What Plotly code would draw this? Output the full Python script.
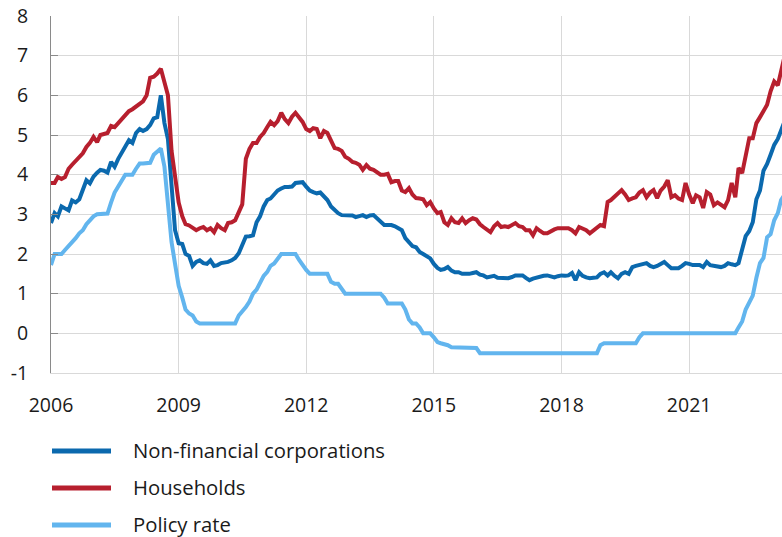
import pandas as pd
import plotly.graph_objects as go

# Monthly observations starting January 2006
start_month = "2006-01-01"

nfc = [
    2.78, 3.03, 2.95, 3.2, 3.15, 3.1, 3.35, 3.3, 3.38, 3.6, 3.86, 3.78,
    3.95, 4.05, 4.12, 4.1, 4.05, 4.32, 4.2, 4.4, 4.55, 4.7, 4.87, 4.8,
    5.05, 5.15, 5.1, 5.15, 5.25, 5.42, 5.45, 6.0, 5.3, 4.9, 3.7, 2.6,
    2.27, 2.25, 2.0, 1.95, 1.7, 1.8, 1.84, 1.77, 1.75, 1.84, 1.7, 1.72,
    1.77, 1.78, 1.8, 1.84, 1.9, 2.02, 2.2, 2.44, 2.45, 2.47, 2.8, 2.95,
    3.2, 3.36, 3.4, 3.5, 3.6, 3.65, 3.69, 3.69, 3.7, 3.79, 3.8, 3.81,
    3.7, 3.6, 3.56, 3.53, 3.55, 3.45, 3.36, 3.2, 3.1, 3.03, 2.98, 2.98,
    2.98, 2.97, 2.93, 2.95, 2.98, 2.93, 2.97, 2.98, 2.9, 2.82, 2.73, 2.73,
    2.73, 2.7, 2.65, 2.6, 2.4, 2.3, 2.2, 2.17, 2.05, 2.0, 1.95, 1.89,
    1.75, 1.65, 1.6, 1.62, 1.67, 1.58, 1.54, 1.54, 1.5, 1.49, 1.5, 1.52,
    1.54, 1.48, 1.46, 1.41, 1.43, 1.45, 1.4, 1.39, 1.39, 1.39, 1.42, 1.46,
    1.46, 1.46, 1.4, 1.34, 1.38, 1.41, 1.43, 1.45, 1.46, 1.43, 1.41, 1.44,
    1.46, 1.45, 1.46, 1.52, 1.34, 1.54, 1.45, 1.41, 1.39, 1.4, 1.41, 1.5,
    1.54, 1.46, 1.54, 1.45, 1.39, 1.5, 1.54, 1.5, 1.67, 1.7, 1.72, 1.75,
    1.77, 1.7, 1.67, 1.7, 1.75, 1.8, 1.72, 1.64, 1.64, 1.64, 1.7, 1.77,
    1.75, 1.72, 1.72, 1.72, 1.67, 1.8, 1.72, 1.7, 1.67, 1.67, 1.7, 1.77,
    1.74, 1.72, 1.77, 2.17, 2.45, 2.58, 2.8, 3.38, 3.6, 4.1, 4.27, 4.5,
    4.75, 4.9, 5.15, 5.35,
]

households = [
    3.79, 3.79, 3.94, 3.89, 3.94, 4.15, 4.25, 4.35, 4.45, 4.54, 4.7, 4.8,
    4.95, 4.82, 5.0, 5.02, 5.05, 5.23, 5.2, 5.3, 5.4, 5.53, 5.6, 5.65,
    5.72, 5.78, 5.85, 6.0, 6.44, 6.47, 6.55, 6.67, 6.3, 6.0, 4.6, 4.0,
    3.3, 2.95, 2.75, 2.72, 2.65, 2.6, 2.65, 2.68, 2.6, 2.65, 2.55, 2.73,
    2.65, 2.6, 2.78, 2.8, 2.85, 3.05, 3.25, 4.4, 4.65, 4.8, 4.8, 4.95,
    5.05, 5.2, 5.33, 5.25, 5.35, 5.56, 5.4, 5.3, 5.46, 5.56, 5.45, 5.33,
    5.15, 5.1, 5.17, 5.15, 4.92, 5.1, 5.05, 4.85, 4.67, 4.65, 4.6, 4.45,
    4.4, 4.32, 4.3, 4.25, 4.12, 4.24, 4.15, 4.12, 4.07, 4.0, 4.0, 4.02,
    3.81, 3.84, 3.84, 3.6, 3.56, 3.66, 3.5, 3.41, 3.4, 3.38, 3.23, 3.31,
    3.15, 3.03, 3.06, 2.8, 2.73, 2.9, 2.8, 2.78, 2.9, 2.78, 2.85, 2.9,
    2.87, 2.75, 2.68, 2.6, 2.55, 2.7, 2.78, 2.68, 2.7, 2.68, 2.73, 2.78,
    2.7, 2.68, 2.6, 2.6, 2.47, 2.65, 2.58, 2.52, 2.52, 2.58, 2.62, 2.65,
    2.65, 2.65, 2.65, 2.6, 2.52, 2.68, 2.65, 2.6, 2.52, 2.6, 2.68, 2.73,
    2.7, 3.31, 3.36, 3.45, 3.53, 3.61, 3.5, 3.36, 3.4, 3.43, 3.55, 3.61,
    3.43, 3.55, 3.61, 3.41, 3.6, 3.7, 3.86, 3.43, 3.48, 3.4, 3.36, 3.79,
    3.5, 3.28, 3.48, 3.43, 3.16, 3.56, 3.5, 3.23, 3.3, 3.25, 3.18, 3.36,
    3.79, 3.43, 4.17, 4.04, 4.54, 4.92, 4.92, 5.3, 5.45, 5.6, 5.76, 6.1,
    6.35, 6.25, 6.65, 7.0,
]

policy_rate = [
    1.72, 2.0, 2.0, 2.0, 2.1, 2.2, 2.27, 2.4, 2.52, 2.6, 2.75, 2.85,
    2.95, 3.0, 3.0, 3.0, 3.02, 3.3, 3.55, 3.7, 3.85, 4.0, 4.0, 4.0,
    4.15, 4.28, 4.28, 4.28, 4.3, 4.5, 4.58, 4.66, 4.2, 3.2, 2.3, 1.75,
    1.2, 0.9, 0.6, 0.5, 0.45, 0.3, 0.25, 0.25, 0.25, 0.25, 0.25, 0.25,
    0.25, 0.25, 0.25, 0.25, 0.25, 0.45, 0.55, 0.66, 0.8, 1.0, 1.1, 1.25,
    1.45, 1.55, 1.7, 1.76, 1.9, 2.0, 2.0, 2.0, 2.0, 2.0, 1.85, 1.72,
    1.6, 1.5, 1.5, 1.5, 1.5, 1.5, 1.5, 1.3, 1.25, 1.25, 1.1, 1.0,
    1.0, 1.0, 1.0, 1.0, 1.0, 1.0, 1.0, 1.0, 1.0, 1.0, 0.9, 0.75,
    0.75, 0.75, 0.75, 0.75, 0.6, 0.35, 0.25, 0.25, 0.15, 0.0, 0.0, 0.0,
    -0.1, -0.22, -0.25, -0.27, -0.3, -0.35, -0.35, -0.35, -0.35, -0.35, -0.35, -0.35,
    -0.37, -0.5, -0.5, -0.5, -0.5, -0.5, -0.5, -0.5, -0.5, -0.5, -0.5, -0.5,
    -0.5, -0.5, -0.5, -0.5, -0.5, -0.5, -0.5, -0.5, -0.5, -0.5, -0.5, -0.5,
    -0.5, -0.5, -0.5, -0.5, -0.5, -0.5, -0.5, -0.5, -0.5, -0.5, -0.5, -0.3,
    -0.25, -0.25, -0.25, -0.25, -0.25, -0.25, -0.25, -0.25, -0.25, -0.25, -0.1, 0.0,
    0.0, 0.0, 0.0, 0.0, 0.0, 0.0, 0.0, 0.0, 0.0, 0.0, 0.0, 0.0,
    0.0, 0.0, 0.0, 0.0, 0.0, 0.0, 0.0, 0.0, 0.0, 0.0, 0.0, 0.0,
    0.0, 0.0, 0.15, 0.3, 0.6, 0.8, 0.95, 1.4, 1.77, 1.9, 2.42, 2.5,
    2.85, 3.03, 3.36, 3.5,
]

series_names = ["Non-financial corporations", "Households", "Policy rate"]
series_colors = ["#0b69ae", "#b71f2e", "#62b5ee"]

tick_years = ["2006", "2009", "2012", "2015", "2018", "2021"]
y_ticks = [-1, 0, 1, 2, 3, 4, 5, 6, 7, 8]
y_tick_labels = ["-1", "0", "1", "2", "3", "4", "5", "6", "7", "8"]

dates = pd.date_range(start_month, periods=len(nfc), freq="MS")

fig = go.Figure()
for name, vals, col in zip(series_names, [nfc, households, policy_rate], series_colors):
    fig.add_trace(go.Scatter(
        x=dates[:len(vals)], y=vals, mode="lines", name=name,
        line=dict(color=col, width=4), showlegend=False,
    ))

# Layout geometry (pixels)
W, H = 782, 537
L, R, T, B = 51, 0, 16, 164
pw, ph = W - L - R, H - T - B


def px_x(px):
    return (px - L) / pw


def px_y(py):
    return (H - B - py) / ph


font_family = "Open Sans, Noto Sans, sans-serif"

# Manual legend below the plot
legend_rows = [451, 488, 525]
shapes = []
annotations = []
for name, col, ry in zip(series_names, series_colors, legend_rows):
    shapes.append(dict(
        type="line", xref="paper", yref="paper",
        x0=px_x(52), x1=px_x(111), y0=px_y(ry), y1=px_y(ry),
        line=dict(color=col, width=5),
    ))
    annotations.append(dict(
        xref="paper", yref="paper", x=px_x(131), y=px_y(ry - 1),
        xanchor="left", yanchor="middle", text=name, showarrow=False,
        font=dict(size=20.3, color="#1a1a1a", family=font_family),
    ))

fig.update_layout(
    width=W, height=H,
    margin=dict(l=L, r=R, t=T, b=B, autoexpand=False),
    paper_bgcolor="white", plot_bgcolor="white",
    font=dict(family=font_family, size=19.5, color="#1a1a1a"),
    showlegend=False,
    shapes=shapes, annotations=annotations,
    xaxis=dict(
        type="date",
        range=["2006-01-01", "2023-03-09"],
        tickvals=[pd.Timestamp(y + "-01-01") for y in tick_years],
        ticktext=tick_years,
        showgrid=True, gridcolor="#d9d9d9", gridwidth=1,
        showline=True, linecolor="#d9d9d9", linewidth=1,
        ticks="", ticklabelstandoff=15,
        zeroline=False, automargin=False,
    ),
    yaxis=dict(
        range=[-1, 8], tickvals=y_ticks, ticktext=y_tick_labels,
        showgrid=True, gridcolor="#d9d9d9", gridwidth=1,
        showline=True, linecolor="#8a8a8a", linewidth=1,
        ticks="inside", ticklen=7, tickcolor="#8a8a8a",
        ticklabelstandoff=18,
        zeroline=False, automargin=False,
    ),
)

fig.write_html(
    "out.html",
    config={"displayModeBar": False},
    post_script="document.body.style.margin='0px';document.body.style.overflow='hidden';",
)
